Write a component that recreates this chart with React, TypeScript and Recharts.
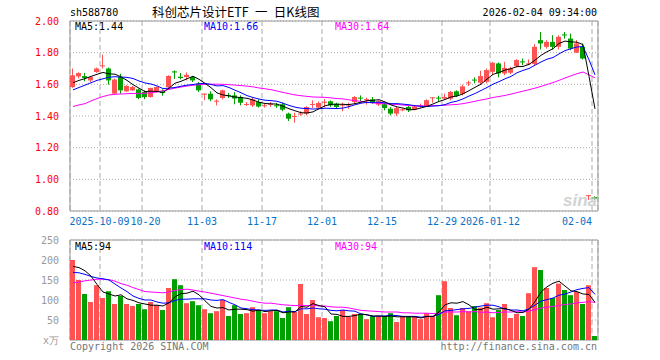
import React from 'react';
import { ComposedChart, Bar, Line, XAxis, YAxis, CartesianGrid, ReferenceArea } from 'recharts';

// trading days shown, one candle each
const dates = [
  '2025-09-24', '2025-09-25', '2025-09-26', '2025-09-29', '2025-09-30', '2025-10-09', '2025-10-10', '2025-10-13', '2025-10-14', '2025-10-15',
  '2025-10-16', '2025-10-17', '2025-10-20', '2025-10-21', '2025-10-22', '2025-10-23', '2025-10-24', '2025-10-27', '2025-10-28', '2025-10-29',
  '2025-10-30', '2025-10-31', '2025-11-03', '2025-11-04', '2025-11-05', '2025-11-06', '2025-11-07', '2025-11-10', '2025-11-11', '2025-11-12',
  '2025-11-13', '2025-11-14', '2025-11-17', '2025-11-18', '2025-11-19', '2025-11-20', '2025-11-21', '2025-11-24', '2025-11-25', '2025-11-26',
  '2025-11-27', '2025-11-28', '2025-12-01', '2025-12-02', '2025-12-03', '2025-12-04', '2025-12-05', '2025-12-08', '2025-12-09', '2025-12-10',
  '2025-12-11', '2025-12-12', '2025-12-15', '2025-12-16', '2025-12-17', '2025-12-18', '2025-12-19', '2025-12-22', '2025-12-23', '2025-12-24',
  '2025-12-25', '2025-12-26', '2025-12-29', '2025-12-30', '2025-12-31', '2026-01-05', '2026-01-06', '2026-01-07', '2026-01-08', '2026-01-09',
  '2026-01-12', '2026-01-13', '2026-01-14', '2026-01-15', '2026-01-16', '2026-01-19', '2026-01-20', '2026-01-21', '2026-01-22', '2026-01-23',
  '2026-01-26', '2026-01-27', '2026-01-28', '2026-01-29', '2026-01-30', '2026-02-02', '2026-02-03', '2026-02-04',
];

const open = [
  1.583, 1.650, 1.652, 1.625, 1.678, 1.716, 1.700, 1.541, 1.646, 1.556,
  1.562, 1.568, 1.552, 1.520, 1.552, 1.555, 1.583, 1.682, 1.648, 1.646,
  1.646, 1.604, 1.539, 1.541, 1.493, 1.514, 1.532, 1.530, 1.520, 1.472,
  1.467, 1.488, 1.465, 1.472, 1.468, 1.474, 1.415, 1.398, 1.413, 1.415,
  1.472, 1.453, 1.488, 1.493, 1.478, 1.469, 1.468, 1.488, 1.516, 1.503,
  1.505, 1.472, 1.474, 1.446, 1.415, 1.438, 1.457, 1.440, 1.465, 1.460,
  1.514, 1.516, 1.510, 1.510, 1.556, 1.540, 1.607, 1.630, 1.610, 1.616,
  1.679, 1.732, 1.669, 1.673, 1.715, 1.745, 1.730, 1.728, 1.879, 1.837,
  1.868, 1.837, 1.915, 1.889, 1.800, 1.837, 0.899, 0.888,
];

const close = [
  1.657, 1.671, 1.640, 1.646, 1.700, 1.720, 1.625, 1.630, 1.562, 1.590,
  1.583, 1.514, 1.520, 1.577, 1.583, 1.545, 1.653, 1.675, 1.640, 1.660,
  1.625, 1.562, 1.541, 1.505, 1.497, 1.562, 1.528, 1.510, 1.484, 1.476,
  1.505, 1.460, 1.468, 1.476, 1.465, 1.440, 1.383, 1.400, 1.416, 1.457,
  1.476, 1.482, 1.490, 1.467, 1.457, 1.472, 1.472, 1.520, 1.512, 1.507,
  1.484, 1.493, 1.450, 1.415, 1.450, 1.442, 1.436, 1.460, 1.468, 1.500,
  1.518, 1.512, 1.520, 1.552, 1.527, 1.587, 1.612, 1.625, 1.652, 1.690,
  1.736, 1.669, 1.704, 1.700, 1.753, 1.742, 1.732, 1.837, 1.858, 1.868,
  1.837, 1.900, 1.910, 1.826, 1.858, 1.763, 0.900, 0.878,
];

const high = [
  1.700, 1.676, 1.672, 1.651, 1.706, 1.787, 1.706, 1.636, 1.667, 1.594,
  1.590, 1.573, 1.562, 1.579, 1.587, 1.568, 1.657, 1.688, 1.672, 1.675,
  1.653, 1.614, 1.543, 1.556, 1.505, 1.566, 1.545, 1.551, 1.530, 1.488,
  1.514, 1.505, 1.478, 1.488, 1.482, 1.484, 1.421, 1.421, 1.430, 1.461,
  1.499, 1.491, 1.507, 1.499, 1.484, 1.484, 1.484, 1.526, 1.530, 1.516,
  1.520, 1.499, 1.484, 1.457, 1.457, 1.448, 1.463, 1.465, 1.478, 1.505,
  1.520, 1.528, 1.541, 1.558, 1.562, 1.598, 1.623, 1.644, 1.686, 1.700,
  1.742, 1.738, 1.742, 1.711, 1.759, 1.763, 1.757, 1.854, 1.931, 1.879,
  1.910, 1.910, 1.931, 1.920, 1.879, 1.858, 0.902, 0.892,
];

const low = [
  1.578, 1.637, 1.619, 1.615, 1.672, 1.700, 1.598, 1.537, 1.541, 1.552,
  1.558, 1.506, 1.506, 1.516, 1.548, 1.528, 1.577, 1.634, 1.632, 1.625,
  1.615, 1.552, 1.500, 1.493, 1.467, 1.505, 1.514, 1.474, 1.467, 1.463,
  1.457, 1.453, 1.453, 1.457, 1.451, 1.430, 1.368, 1.358, 1.402, 1.404,
  1.451, 1.446, 1.455, 1.457, 1.451, 1.430, 1.446, 1.478, 1.493, 1.472,
  1.478, 1.463, 1.436, 1.404, 1.400, 1.430, 1.425, 1.436, 1.453, 1.457,
  1.484, 1.493, 1.505, 1.499, 1.520, 1.530, 1.589, 1.606, 1.600, 1.606,
  1.658, 1.644, 1.658, 1.665, 1.707, 1.721, 1.721, 1.721, 1.820, 1.826,
  1.820, 1.820, 1.889, 1.816, 1.799, 1.757, 0.870, 0.870,
];

// volume, in 万
const volume = [
  200, 150, 115, 95, 137, 105, 122, 90, 110, 90,
  85, 90, 77, 95, 87, 75, 130, 152, 137, 92,
  97, 87, 77, 67, 72, 100, 60, 87, 65, 67,
  82, 75, 67, 72, 72, 55, 82, 70, 140, 65,
  100, 57, 55, 47, 60, 75, 58, 65, 65, 52,
  60, 60, 60, 67, 45, 60, 58, 60, 52, 67,
  60, 112, 147, 80, 62, 80, 72, 85, 81, 92,
  57, 75, 90, 55, 65, 60, 117, 182, 175, 130,
  105, 141, 125, 112, 120, 90, 137, 10,
];

const ma5 = [
  1.610, 1.625, 1.636, 1.650, 1.663, 1.675, 1.666, 1.664, 1.647, 1.625,
  1.598, 1.576, 1.554, 1.557, 1.555, 1.548, 1.576, 1.607, 1.619, 1.635,
  1.651, 1.632, 1.606, 1.579, 1.546, 1.533, 1.527, 1.520, 1.516, 1.512,
  1.501, 1.487, 1.479, 1.477, 1.475, 1.462, 1.446, 1.433, 1.421, 1.419,
  1.426, 1.446, 1.464, 1.474, 1.474, 1.474, 1.472, 1.478, 1.487, 1.497,
  1.499, 1.503, 1.489, 1.470, 1.458, 1.450, 1.439, 1.441, 1.451, 1.461,
  1.476, 1.492, 1.504, 1.520, 1.526, 1.540, 1.560, 1.581, 1.601, 1.633,
  1.663, 1.675, 1.690, 1.699, 1.712, 1.713, 1.726, 1.753, 1.783, 1.806,
  1.825, 1.858, 1.873, 1.868, 1.866, 1.851, 1.651, 1.445,
];

const ma10 = [
  1.565, 1.580, 1.595, 1.610, 1.625, 1.635, 1.645, 1.648, 1.646, 1.644,
  1.637, 1.621, 1.609, 1.602, 1.590, 1.573, 1.576, 1.580, 1.588, 1.595,
  1.599, 1.604, 1.606, 1.599, 1.590, 1.592, 1.580, 1.563, 1.547, 1.529,
  1.517, 1.507, 1.500, 1.497, 1.493, 1.481, 1.467, 1.456, 1.449, 1.447,
  1.444, 1.446, 1.449, 1.448, 1.447, 1.450, 1.459, 1.471, 1.481, 1.486,
  1.486, 1.487, 1.483, 1.478, 1.478, 1.475, 1.471, 1.465, 1.461, 1.460,
  1.463, 1.465, 1.472, 1.486, 1.494, 1.508, 1.526, 1.542, 1.561, 1.580,
  1.601, 1.617, 1.635, 1.650, 1.673, 1.688, 1.700, 1.721, 1.741, 1.759,
  1.769, 1.792, 1.813, 1.825, 1.836, 1.838, 1.755, 1.660,
];

const ma30 = [
  1.460, 1.470, 1.478, 1.495, 1.510, 1.523, 1.533, 1.537, 1.539, 1.541,
  1.542, 1.543, 1.544, 1.546, 1.552, 1.560, 1.568, 1.576, 1.583, 1.589,
  1.594, 1.598, 1.600, 1.601, 1.601, 1.600, 1.598, 1.595, 1.592, 1.589,
  1.584, 1.577, 1.572, 1.566, 1.558, 1.549, 1.541, 1.533, 1.528, 1.524,
  1.520, 1.519, 1.518, 1.514, 1.510, 1.508, 1.502, 1.497, 1.492, 1.487,
  1.482, 1.480, 1.477, 1.474, 1.473, 1.469, 1.466, 1.464, 1.463, 1.464,
  1.465, 1.466, 1.468, 1.471, 1.473, 1.478, 1.485, 1.493, 1.501, 1.508,
  1.517, 1.523, 1.530, 1.538, 1.548, 1.557, 1.566, 1.576, 1.587, 1.599,
  1.611, 1.625, 1.640, 1.654, 1.667, 1.678, 1.660, 1.641,
];

const volMa5 = [
  184, 181, 173, 160, 139, 120, 115, 110, 113, 103,
  99, 93, 90, 87, 87, 85, 93, 108, 116, 117,
  122, 113, 98, 84, 80, 81, 75, 77, 77, 76,
  72, 75, 71, 73, 74, 68, 70, 70, 84, 82,
  91, 86, 83, 65, 64, 59, 59, 61, 65, 63,
  60, 60, 59, 60, 58, 58, 58, 58, 55, 59,
  59, 70, 88, 93, 92, 96, 88, 76, 76, 82,
  77, 78, 79, 74, 68, 69, 77, 96, 120, 133,
  142, 147, 135, 123, 121, 115, 114, 94,
];

const volMa10 = [
  169, 168, 164, 159, 155, 153, 150, 140, 130, 121,
  110, 104, 100, 100, 95, 92, 93, 99, 102, 102,
  103, 103, 103, 100, 99, 101, 94, 88, 80, 78,
  76, 75, 74, 75, 75, 70, 72, 71, 78, 78,
  80, 78, 77, 74, 73, 75, 73, 72, 65, 63,
  59, 60, 60, 62, 61, 59, 59, 59, 57, 59,
  59, 64, 73, 74, 76, 78, 79, 82, 85, 87,
  87, 83, 77, 75, 75, 73, 78, 87, 97, 101,
  105, 112, 115, 120, 126, 129, 131, 114,
];

const volMa30 = [
  143, 145, 148, 150, 152, 152, 151, 147, 141, 137,
  131, 126, 121, 120, 119, 118, 120, 124, 126, 127,
  125, 122, 120, 117, 114, 111, 108, 105, 102, 100,
  97, 94, 92, 92, 90, 88, 87, 86, 87, 86,
  87, 85, 85, 83, 82, 82, 80, 77, 74, 73,
  72, 71, 70, 70, 70, 68, 68, 67, 67, 67,
  66, 67, 70, 70, 70, 71, 70, 71, 69, 70,
  68, 69, 70, 70, 71, 70, 72, 76, 80, 82,
  84, 86, 89, 90, 93, 94, 96, 94,
];

const tickDates = ['2025-10-09', '2025-10-20', '2025-11-03', '2025-11-17', '2025-12-01', '2025-12-15', '2025-12-29', '2026-01-12', '2026-02-04'];
const tickLabels = ['2025-10-09', '10-20', '11-03', '11-17', '12-01', '12-15', '12-29', '2026-01-12', '02-04'];
const priceTicks = [0.8, 1.0, 1.2, 1.4, 1.6, 1.8, 2.0];
const volTicks = [0, 50, 100, 150, 200, 250];

const RED = '#ff5252';
const GREEN = '#00a000';
const GRID = '#aaaaaa';
const MONO = "'DejaVu Sans Mono', 'Liberation Mono', monospace";

// grid lines sit on the left edge of the day's slot
const xTicks = tickDates.map((d) => dates.indexOf(d));

const rows = dates.map((date, i) => ({
  date,
  pos: i + 0.5,
  open: open[i],
  close: close[i],
  high: high[i],
  low: low[i],
  vol: volume[i],
  ma5: ma5[i],
  ma10: ma10[i],
  ma30: ma30[i],
  vma5: volMa5[i],
  vma10: volMa10[i],
  vma30: volMa30[i],
}));

const Candle = (props: any) => {
  const { x, y, height, payload } = props;
  if (x == null || payload == null) return null;
  const color = payload.close >= payload.open ? RED : GREEN;
  const top = Math.min(y, y + height);
  const h = Math.abs(height);
  const span = payload.high - payload.low;
  const k = span > 0 ? h / span : 0;
  const yO = top + (payload.high - payload.open) * k;
  const yC = top + (payload.high - payload.close) * k;
  const left = Math.floor(x);
  const cx = left + 2.5;
  return (
    <g>
      <line x1={cx} x2={cx} y1={top} y2={top + h} stroke={color} strokeWidth={1} />
      <rect x={left} y={Math.min(yO, yC)} width={5} height={Math.max(Math.abs(yO - yC), 1)} fill={color} />
    </g>
  );
};

const VolBar = (props: any) => {
  const { x, y, height, payload } = props;
  if (x == null || payload == null) return null;
  const color = payload.close >= payload.open ? RED : GREEN;
  return <rect x={Math.floor(x)} y={Math.min(y, y + height)} width={5} height={Math.abs(height)} fill={color} />;
};

const DateTick = (props: any) => {
  const { x, y, payload } = props;
  const i = xTicks.indexOf(payload.value);
  let anchor = 'middle';
  let tx = x;
  if (i === 0) tx = x - 0.5;
  if (i === 1) {
    // butts up against the long first label, as in the original
    anchor = 'start';
    tx = x - 11.5;
  }
  if (i === xTicks.length - 1) anchor = 'end';
  return (
    <text x={tx} y={y + 14} textAnchor={anchor} fill="#0a72c6" fontSize={10} fontFamily={MONO}>
      {tickLabels[i]}
    </text>
  );
};

export default function App() {
  const n = dates.length;
  return (
    <div style={{ position: 'absolute', left: 0, top: 0, width: 660, height: 360, background: '#fff' }}>
      <div style={{ position: 'absolute', left: 0, top: 0 }}>
        <ComposedChart width={660} height={227} data={rows} margin={{ top: 21, right: 62, bottom: 0, left: 0 }}>
          <CartesianGrid vertical={false} stroke={GRID} strokeDasharray="1 2" />
          <CartesianGrid horizontal={false} stroke={GRID} strokeDasharray="5 3" />
          <XAxis
            type="number"
            dataKey="pos"
            domain={[0, n]}
            ticks={xTicks}
            interval={0}
            height={16}
            axisLine={false}
            tickLine={false}
            tickSize={0}
            tickMargin={0}
            tick={<DateTick />}
            allowDataOverflow
          />
          <YAxis
            type="number"
            domain={[0.8, 2.0]}
            ticks={priceTicks}
            width={70}
            axisLine={false}
            tickLine={false}
            tickMargin={5}
            tickFormatter={(v: number) => v.toFixed(2)}
            tick={{ fill: '#ff0000', fontSize: 10, fontFamily: MONO }}
            allowDataOverflow
          />
          <ReferenceArea x1={0} x2={n} y1={0.8} y2={2.0} fill="none" stroke="#999" ifOverflow="visible" />
          <Bar dataKey={(d: any) => [d.low, d.high]} barSize={5} shape={<Candle />} isAnimationActive={false} />
          <Line dataKey="ma30" stroke="#ff00ff" strokeWidth={1} dot={false} isAnimationActive={false} />
          <Line dataKey="ma10" stroke="#0000ff" strokeWidth={1} dot={false} isAnimationActive={false} />
          <Line dataKey="ma5" stroke="#000000" strokeWidth={1} dot={false} isAnimationActive={false} />
        </ComposedChart>
      </div>

      <div style={{ position: 'absolute', left: 0, top: 230 }}>
        <ComposedChart width={660} height={130} data={rows} margin={{ top: 10, right: 62, bottom: 20, left: 0 }}>
          <CartesianGrid vertical={false} stroke={GRID} strokeDasharray="1 2" />
          <CartesianGrid horizontal={false} stroke={GRID} strokeDasharray="5 3" />
          <XAxis type="number" dataKey="pos" domain={[0, n]} ticks={xTicks} interval={0} hide allowDataOverflow />
          <YAxis
            type="number"
            domain={[0, 250]}
            ticks={volTicks}
            width={70}
            axisLine={false}
            tickLine={false}
            tickMargin={5}
            tickFormatter={(v: number) => (v === 0 ? 'x万' : String(v))}
            tick={{ fill: '#999', fontSize: 10, fontFamily: MONO }}
            allowDataOverflow
          />
          <ReferenceArea x1={0} x2={n} y1={0} y2={250} fill="none" stroke="#999" ifOverflow="visible" />
          <Bar dataKey="vol" barSize={5} shape={<VolBar />} isAnimationActive={false} />
          <Line dataKey="vma30" stroke="#ff00ff" strokeWidth={1} dot={false} isAnimationActive={false} />
          <Line dataKey="vma10" stroke="#0000ff" strokeWidth={1} dot={false} isAnimationActive={false} />
          <Line dataKey="vma5" stroke="#000000" strokeWidth={1} dot={false} isAnimationActive={false} />
        </ComposedChart>
      </div>

      {/* titles, legends and footer */}
      <svg width={660} height={360} style={{ position: 'absolute', left: 0, top: 0, pointerEvents: 'none' }}>
        <g fontFamily={MONO} fontSize={10}>
          <text x={70} y={16} fill="#000">sh588780</text>
          <text x={597} y={16} fill="#000" textAnchor="end">2026-02-04 09:34:00</text>
          <text x={75} y={30} fill="#000">MA5:1.44</text>
          <text x={204} y={30} fill="#0000ff">MA10:1.66</text>
          <text x={335} y={30} fill="#ff00ff">MA30:1.64</text>
          <text x={75} y={250} fill="#000">MA5:94</text>
          <text x={204} y={250} fill="#0000ff">MA10:114</text>
          <text x={335} y={250} fill="#ff00ff">MA30:94</text>
          <text x={70} y={350} fill="#777">Copyright 2026 SINA.COM</text>
          <text x={597} y={350} fill="#777" textAnchor="end">http://finance.sina.com.cn</text>
        </g>
        <text x={152} y={16.5} fontFamily="'Noto Sans CJK SC', sans-serif" fontSize={12.5} fill="#000">
          科创芯片设计ETF{'\u2002'}一{'\u2002'}日K线图
        </text>
        <text x={563} y={206} fontFamily="'Liberation Sans', sans-serif" fontSize={17} fontStyle="italic" fontWeight="bold" fill="#c8c8c8" opacity={0.8}>
          sina
        </text>
      </svg>
    </div>
  );
}
